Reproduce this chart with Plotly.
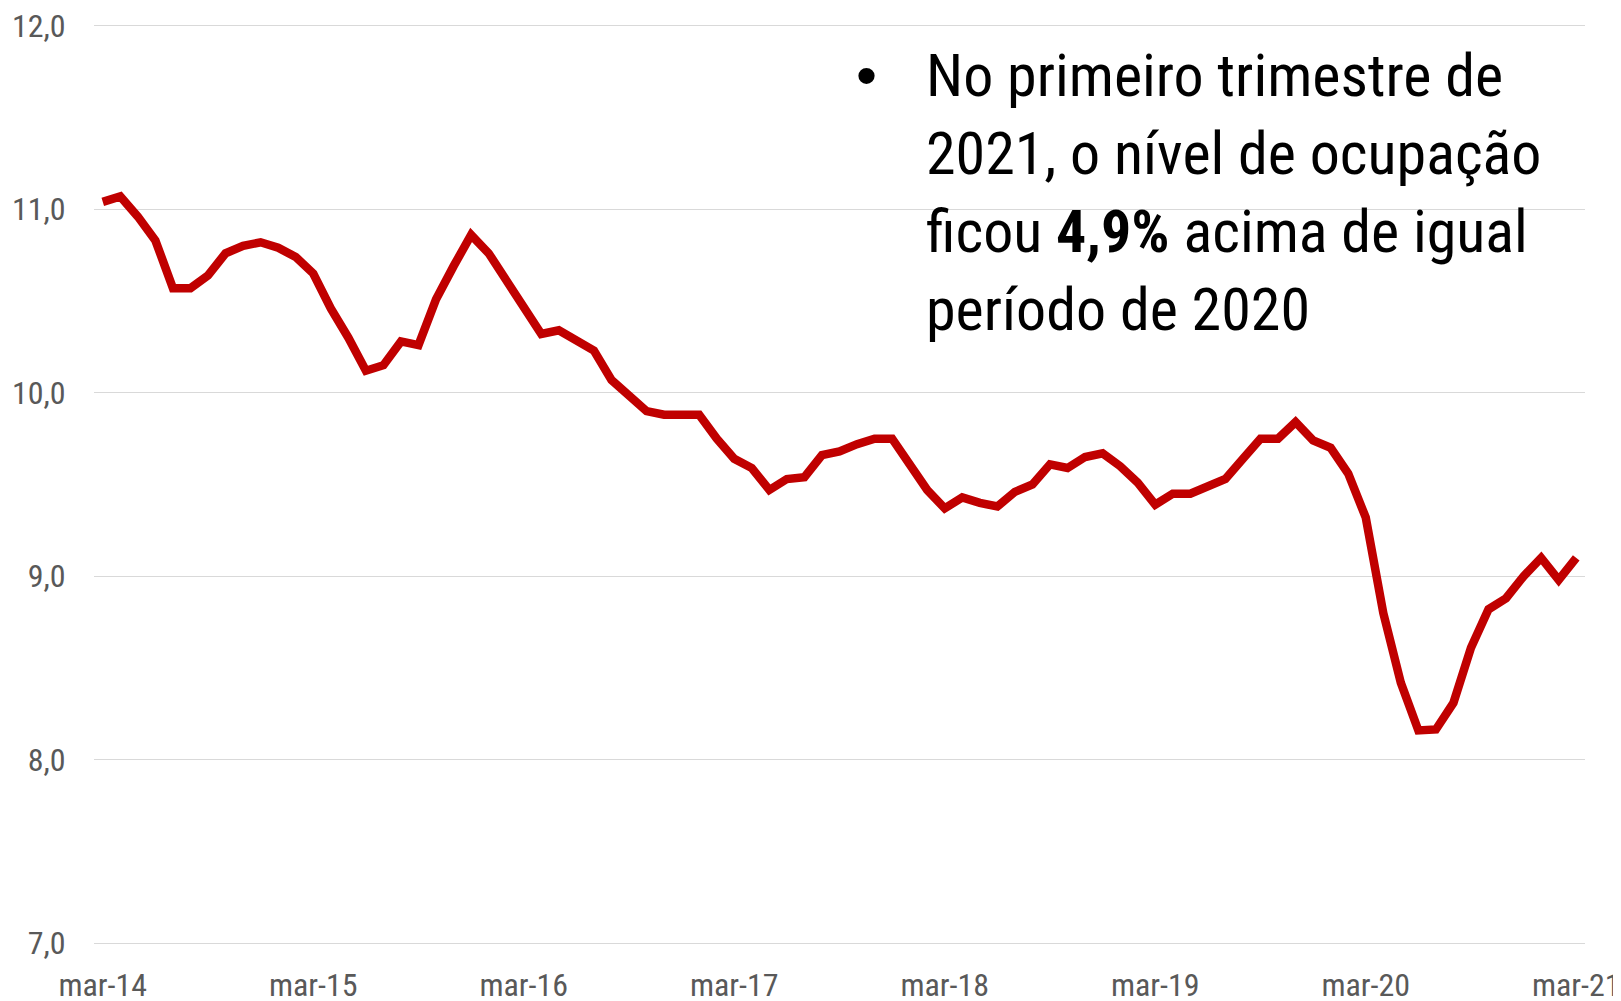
import plotly.graph_objects as go

meses = ["jan", "fev", "mar", "abr", "mai", "jun", "jul", "ago", "set", "out", "nov", "dez"]
# monthly categories from mar-14 to mar-21
categorias = []
for ano in range(14, 22):
    for m in meses:
        categorias.append(f"{m}-{ano}")
inicio = categorias.index("mar-14")
fim = categorias.index("mar-21")
categorias = categorias[inicio:fim + 1]

valores = [
    11.04, 11.07, 10.96, 10.83, 10.57, 10.57, 10.64, 10.76, 10.80, 10.82, 10.79, 10.74,
    10.65, 10.46, 10.30, 10.12, 10.15, 10.28, 10.26, 10.51, 10.69, 10.86, 10.76, 10.61,
    10.45, 10.32, 10.34, 10.28, 10.23, 10.07, 9.98, 9.90, 9.88, 9.885, 9.88, 9.75,
    9.64, 9.59, 9.47, 9.53, 9.54, 9.66, 9.68, 9.72, 9.75, 9.75, 9.60, 9.47,
    9.37, 9.43, 9.40, 9.38, 9.46, 9.50, 9.61, 9.59, 9.65, 9.67, 9.60, 9.51,
    9.39, 9.45, 9.45, 9.49, 9.53, 9.64, 9.75, 9.75, 9.84, 9.74, 9.70, 9.56,
    9.32, 8.80, 8.42, 8.16, 8.165, 8.31, 8.61, 8.82, 8.88, 9.00, 9.10, 8.98,
    9.10,
]

rotulos_x = ["mar-14", "mar-15", "mar-16", "mar-17", "mar-18", "mar-19", "mar-20", "mar-21"]
valores_y = [7, 8, 9, 10, 11, 12]
rotulos_y = ["7,0", "8,0", "9,0", "10,0", "11,0", "12,0"]

texto = ("No primeiro trimestre de<br>2021, o nível de ocupação<br>"
         "ficou <b>4,9%</b> acima de igual<br>período de 2020")

FONTE = "Roboto Condensed, Liberation Sans Narrow, Arial Narrow, Liberation Sans, Arial, sans-serif"

fig = go.Figure()
fig.add_trace(go.Scatter(
    x=categorias, y=valores, mode="lines",
    line=dict(color="#C00000", width=8.5),
    hoverinfo="skip",
))

# the page body adds an 8px offset; the figure fills the rest of the window
OFF = 8
W, H = 1621 - OFF, 1001 - OFF
L, R, T, B = 94 - OFF, 36, 15, 55

fig.update_layout(
    width=W, height=H,
    margin=dict(l=L, r=R, t=T, b=B, pad=0),
    paper_bgcolor="white", plot_bgcolor="white",
    showlegend=False,
    font=dict(family=FONTE, color="#595959", size=32),
    xaxis=dict(
        type="category", range=[-0.5, 84.5], automargin=False,
        tickmode="array", tickvals=rotulos_x, ticktext=rotulos_x,
        showgrid=False, showline=False, zeroline=False,
        ticks="outside", ticklen=11, tickcolor="rgba(0,0,0,0)",
        tickfont=dict(family=FONTE, size=32, color="#595959"),
        ticklabeloverflow="allow",
    ),
    yaxis=dict(
        range=[6.985, 12.015], automargin=False, tickmode="array", tickvals=valores_y, ticktext=rotulos_y,
        showgrid=True, gridcolor="#D9D9D9", gridwidth=1.3,
        showline=False, zeroline=False,
        ticks="outside", ticklen=21, tickcolor="rgba(0,0,0,0)",
        tickfont=dict(family=FONTE, size=32, color="#595959"),
        ticklabeloverflow="allow",
    ),
)

pw = W - L - R
ph = H - T - B

def px_x(px):
    return (px - OFF - L) / pw

def px_y(py):
    return (H - B - (py - OFF)) / ph

fig.add_annotation(
    xref="paper", yref="paper", x=px_x(866), y=px_y(75),
    text="•", showarrow=False, xanchor="center", yanchor="middle",
    font=dict(family="Liberation Sans, Arial, sans-serif", size=60, color="black"),
)
fig.add_annotation(
    xref="paper", yref="paper", x=px_x(924), y=px_y(38),
    text=texto, showarrow=False, xanchor="left", yanchor="top", align="left",
    font=dict(family=FONTE, size=60, color="black"),
)

fig.write_html("out.html")
